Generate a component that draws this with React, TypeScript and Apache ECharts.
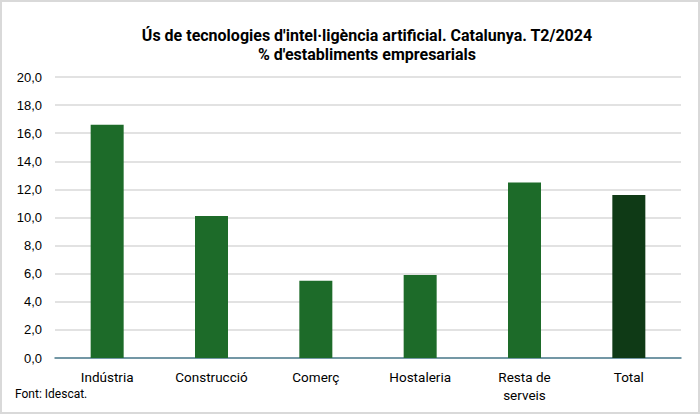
import React, { useEffect, useRef } from "react";
import * as echarts from "echarts";

const categories = ["Indústria", "Construcció", "Comerç", "Hostaleria", "Resta de\nserveis", "Total"];
const values = [16.6, 10.1, 5.5, 5.9, 12.5, 11.6];
const barColors = ["#1d6b29", "#1d6b29", "#1d6b29", "#1d6b29", "#1d6b29", "#0f3a16"];
const titleLines = ["Ús de tecnologies d'intel·ligència artificial. Catalunya. T2/2024", "% d'establiments empresarials"];
const sourceText = "Font: Idescat.";

export default function App() {
  const ref = useRef<HTMLDivElement>(null);
  useEffect(() => {
    if (!ref.current) return;
    const chart = echarts.init(ref.current, undefined, { renderer: "svg" });
    chart.setOption({
      animation: false,
      backgroundColor: "#ffffff",
      title: {
        text: titleLines.join("\n"),
        left: 360,
        top: 19,
        textAlign: "center",
        textStyle: {
          fontFamily: "Roboto",
          fontWeight: "bold",
          fontSize: 16,
          lineHeight: 19,
          color: "#000000",
        },
      },
      grid: { left: 53, right: 17, top: 75, bottom: 54 },
      xAxis: {
        type: "category",
        data: categories,
        axisTick: { show: false },
        axisLine: { lineStyle: { color: "#4f7f91", width: 1.5 } },
        axisLabel: {
          fontFamily: "Roboto",
          fontSize: 13.5,
          color: "#000000",
          margin: 10,
          lineHeight: 18,
          interval: 0,
        },
      },
      yAxis: {
        type: "value",
        min: 0,
        max: 20,
        interval: 2,
        axisLine: { show: false },
        axisTick: { show: false },
        splitLine: { lineStyle: { color: "#d9d9d9", width: 1.5 } },
        axisLabel: {
          formatter: (v: number) => v.toFixed(1).replace(".", ","),
          fontFamily: "Liberation Sans",
          fontSize: 13,
          color: "#000000",
          margin: 13,
        },
      },
      series: [
        {
          type: "bar",
          barWidth: 33,
          data: values.map((v, i) => ({ value: v, itemStyle: { color: barColors[i] } })),
        },
      ],
      graphic: [
        {
          type: "text",
          left: 13,
          top: 386,
          style: {
            text: sourceText,
            font: "12px Roboto",
            fill: "#000000",
          },
        },
      ],
    });
    return () => chart.dispose();
  }, []);
  return (
    <div
      style={{
        position: "fixed",
        left: 0,
        top: 0,
        width: 700,
        height: 414,
        boxSizing: "border-box",
        border: "2px solid #d9d9d9",
        background: "#fff",
      }}
    >
      <div ref={ref} style={{ width: 696, height: 410 }} />
    </div>
  );
}
